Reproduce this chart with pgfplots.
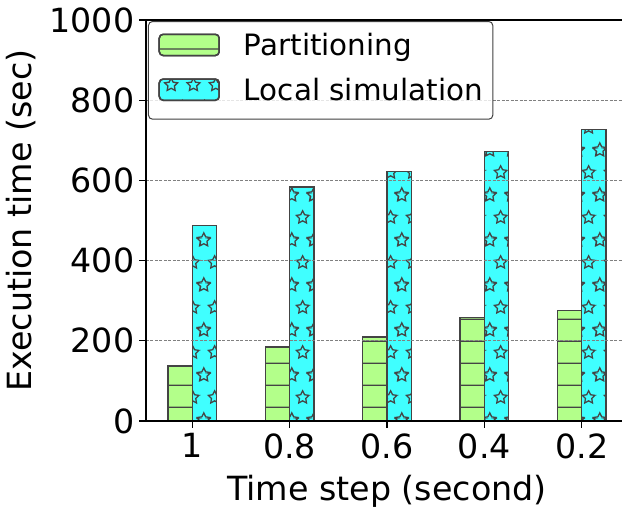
\documentclass[border=0pt]{standalone}
\usepackage{pgfplots}
\pgfplotsset{compat=1.18}
\usepackage{fontspec}
\setmainfont{DejaVu Sans}
\usetikzlibrary{patterns.meta}
\definecolor{pgreen}{RGB}{179,255,138}
\definecolor{pcyan}{RGB}{64,255,255}
\definecolor{edgec}{RGB}{68,68,68}

\tikzdeclarepattern{
  name=hlines,
  type=uncolored,
  bounding box={(0pt,0pt) and (22.3pt,22.3pt)},
  tile size={(22.3pt,22.3pt)},
  code={
    \draw[line width=1.3pt] (-1pt,12.2pt) -- (23.3pt,12.2pt);
  }
}

\newcommand\mystar[2]{%
  \draw[line width=1.3pt, line join=miter, shift={(#1,#2)}]
    (90:6.8pt) -- (126:3.4pt) -- (162:6.8pt) -- (198:3.4pt) -- (234:6.8pt) --
    (270:3.4pt) -- (306:6.8pt) -- (342:3.4pt) -- (18:6.8pt) -- (54:3.4pt) -- cycle;}

\tikzdeclarepattern{
  name=stars,
  type=uncolored,
  bounding box={(0pt,0pt) and (22.3pt,44.6pt)},
  tile size={(22.3pt,44.6pt)},
  code={
    \foreach \dx in {-22.3,0,22.3}{
      \foreach \dy in {-44.6,0,44.6}{
        \mystar{{(3.9+\dx)*1pt}}{{(43+\dy)*1pt}}
        \mystar{{(15.05+\dx)*1pt}}{{(20.7+\dy)*1pt}}
      }
    }
  }
}

\begin{document}
\begin{tikzpicture}
\begin{axis}[
  scale only axis, width=482pt, height=401pt,
  xmin=-0.475, xmax=4.475, ymin=0, ymax=1000,
  xtick={0,1,2,3,4}, xticklabels={1,0.8,0.6,0.4,0.2},
  ytick={0,200,400,600,800,1000},
  /pgf/number format/assume math mode=true,
  /pgf/number format/1000 sep={},
  tick align=outside, major tick length=6.5pt,
  tick pos=left,
  tick style={line width=1.3pt, black},
  axis line style={line width=1.3pt},
  ymajorgrids,
  grid style={gray, line width=0.8pt, dash pattern=on 3pt off 1.5pt},
  axis on top,
  ybar, bar width=0.25,
  tick label style={font=\fontsize{33.3}{40}\selectfont},
  label style={font=\fontsize{33.3}{40}\selectfont},
  yticklabel style={anchor=east, inner sep=0pt, xshift=-5pt},
  xticklabel style={anchor=north, inner sep=0pt, yshift=-6pt},
  xlabel={Time step (second)},
  ylabel={Execution time (sec)},
  xlabel style={at={(axis description cs:0.5,-0.197)}, anchor=base, inner sep=0pt},
  ylabel style={at={(axis description cs:-0.238,0.5)}, anchor=base, inner sep=0pt, rotate=0},
  legend style={
    at={(axis description cs:0.00415,0.9975)}, anchor=north west,
    draw=black!75, line width=1pt, rounded corners=4pt,
    fill=white, fill opacity=0.8, text opacity=1, draw opacity=1,
    inner xsep=10pt, inner ysep=12pt, row sep=15.8pt,
    font=\fontsize{29.4}{35}\selectfont,
    nodes={inner sep=0pt, text height=21.3pt, text depth=6.9pt},
    /tikz/every odd column/.append style={column sep=24pt},
  },
  legend cell align=left,
  legend image code/.code={%
    \begin{scope}[fill opacity=1]
    \draw[#1] (0pt,-7.2pt) rectangle (60pt,14.1pt);
    \end{scope}},
]
\addplot[draw=edgec, line width=1.5pt, preaction={fill=pgreen}, pattern=hlines, pattern color=edgec, bar shift=-0.125]
  coordinates {(0,137) (1,185) (2,210) (3,258) (4,275)};
\addplot[draw=edgec, line width=1.5pt, preaction={fill=pcyan}, pattern=stars, pattern color=edgec, bar shift=0.125]
  coordinates {(0,487) (1,584) (2,622) (3,672) (4,727)};
\legend{Partitioning, Local simulation\hspace{10pt}}
\coordinate (O) at (rel axis cs:0,0);
\end{axis}
\pgfresetboundingbox
\path[use as bounding box] ([xshift=-146pt,yshift=-86pt]O) rectangle ++(622pt,507pt);
\end{tikzpicture}
\end{document}
